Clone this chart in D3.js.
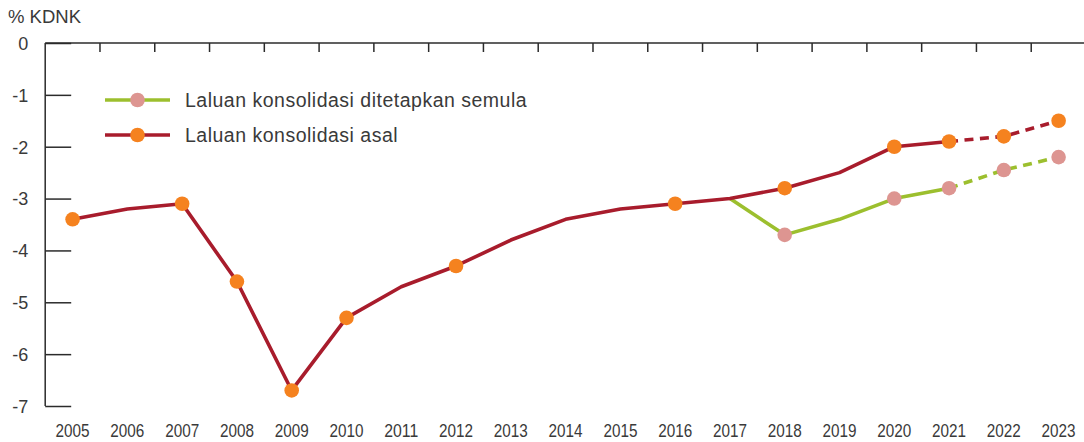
<!DOCTYPE html>
<html><head><meta charset="utf-8">
<script src="https://cdn.jsdelivr.net/npm/d3@7"></script>
<style>
html,body{margin:0;padding:0;background:#fff;}
svg{display:block;}
text{font-family:"Liberation Sans",Arial,sans-serif;}
</style></head>
<body>
<svg id="chart" width="1084" height="442"></svg>
<script>
const years = ["2005","2006","2007","2008","2009","2010","2011","2012","2013","2014","2015","2016","2017","2018","2019","2020","2021","2022","2023"];
const asalValues = [-3.4,-3.2,-3.1,-4.6,-6.7,-5.3,-4.7,-4.3,-3.8,-3.4,-3.2,-3.1,-3.0,-2.8,-2.5,-2.0,-1.9,-1.8,-1.5];
const asalMarkerYears = ["2005","2007","2008","2009","2010","2012","2016","2018","2020","2021","2022","2023"];
const semulaYears = ["2017","2018","2019","2020","2021","2022","2023"];
const semulaValues = [-3.0,-3.7,-3.4,-3.0,-2.8,-2.45,-2.2];
const semulaMarkerYears = ["2018","2020","2021","2022","2023"];
const dashStartYear = "2021";
const yTicks = [0,-1,-2,-3,-4,-5,-6,-7];
const legendLabels = ["Laluan konsolidasi ditetapkan semula","Laluan konsolidasi asal"];
const unitLabel = "% KDNK";

const RED = "#a81c2c", ORANGE = "#f5821f", GREEN = "#9cbf2e", PINK = "#dd9591", AXIS = "#2b2b2b", TEXT = "#3a3a3a";

const svg = d3.select("#chart");
const mLeft = 45.2, mRight = 1086, mTop = 43, mBottom = 406;

const x = d3.scaleBand().domain(years).range([mLeft, mRight]).padding(0);
const cx = d => x(d) + x.bandwidth()/2;
const y = d3.scaleLinear().domain([0,-7]).range([mTop,mBottom]);

// unit label
svg.append("text").attr("x",8).attr("y",23).attr("fill",TEXT)
  .attr("font-size",18.5).text(unitLabel);

// Y axis
const yAxis = d3.axisRight(y).tickValues(yTicks).tickSize(26).tickFormat(d3.format("d"));
const yg = svg.append("g").attr("transform",`translate(${mLeft},0)`).call(yAxis);
yg.select(".domain").remove();
yg.append("line").attr("x1",0).attr("x2",0).attr("y1",mTop).attr("y2",mBottom).attr("stroke",AXIS).attr("stroke-width",1.5);
yg.selectAll(".tick line").attr("stroke",AXIS).attr("stroke-width",1.5);
yg.selectAll(".tick text").attr("x",-17).attr("text-anchor","end").attr("fill",TEXT)
  .attr("font-family","'Liberation Sans',Arial,sans-serif")
  .attr("font-size",18).attr("dy","0.35em").text(d => d===0 ? "0" : "-" + Math.abs(d));

// Top axis line with category boundary ticks
const tg = svg.append("g");
tg.append("line").attr("x1",mLeft).attr("x2",1084).attr("y1",mTop).attr("y2",mTop).attr("stroke",AXIS).attr("stroke-width",1.5);
tg.selectAll("line.b").data(years.slice(1)).join("line").attr("class","b")
  .attr("x1",d=>x(d)).attr("x2",d=>x(d)).attr("y1",mTop).attr("y2",mTop+9)
  .attr("stroke",AXIS).attr("stroke-width",1.5);

// X labels (condensed look)
const xAxis = d3.axisBottom(x).tickSize(0).tickPadding(0);
const xg = svg.append("g").attr("transform",`translate(0,437)`).call(xAxis);
xg.select(".domain").remove();
xg.selectAll(".tick text").attr("font-family","'Liberation Sans',Arial,sans-serif")
  .attr("font-size",18.5).attr("fill",TEXT).attr("dy",0).attr("y",0)
  .attr("textLength",34).attr("lengthAdjust","spacingAndGlyphs");

// Lines
const line = d3.line().x(d=>cx(d.year)).y(d=>y(d.value));
const asal = years.map((yr,i)=>({year:yr,value:asalValues[i]}));
const semula = semulaYears.map((yr,i)=>({year:yr,value:semulaValues[i]}));
const splitIdx = (arr) => arr.findIndex(d=>d.year===dashStartYear);

function drawSeries(data, color){
  const k = splitIdx(data);
  svg.append("path").datum(data.slice(0,k+1)).attr("d",line).attr("fill","none")
    .attr("stroke",color).attr("stroke-width",3.6).attr("stroke-linejoin","round");
  svg.append("path").datum(data.slice(k)).attr("d",line).attr("fill","none")
    .attr("stroke",color).attr("stroke-width",3.6).attr("stroke-dasharray","9,6.5");
}
drawSeries(semula, GREEN);
drawSeries(asal, RED);

svg.selectAll("circle.s").data(semula.filter(d=>semulaMarkerYears.includes(d.year))).join("circle")
  .attr("class","s").attr("cx",d=>cx(d.year)).attr("cy",d=>y(d.value)).attr("r",7.3).attr("fill",PINK);
svg.selectAll("circle.a").data(asal.filter(d=>asalMarkerYears.includes(d.year))).join("circle")
  .attr("class","a").attr("cx",d=>cx(d.year)).attr("cy",d=>y(d.value)).attr("r",7.3).attr("fill",ORANGE);

// Legend
const legend = [{label:legendLabels[0],line:GREEN,dot:PINK},{label:legendLabels[1],line:RED,dot:ORANGE}];
const lg = svg.append("g");
legend.forEach((l,i)=>{
  const ly = 100 + i*35;
  lg.append("line").attr("x1",105).attr("x2",170).attr("y1",ly).attr("y2",ly).attr("stroke",l.line).attr("stroke-width",3.6);
  lg.append("circle").attr("cx",137.5).attr("cy",ly).attr("r",7.3).attr("fill",l.dot);
  lg.append("text").attr("x",185).attr("y",ly).attr("dy","0.36em").attr("fill",TEXT)
    .attr("font-size",19.5).attr("letter-spacing",0.5).text(l.label);
});
</script>
</body></html>
